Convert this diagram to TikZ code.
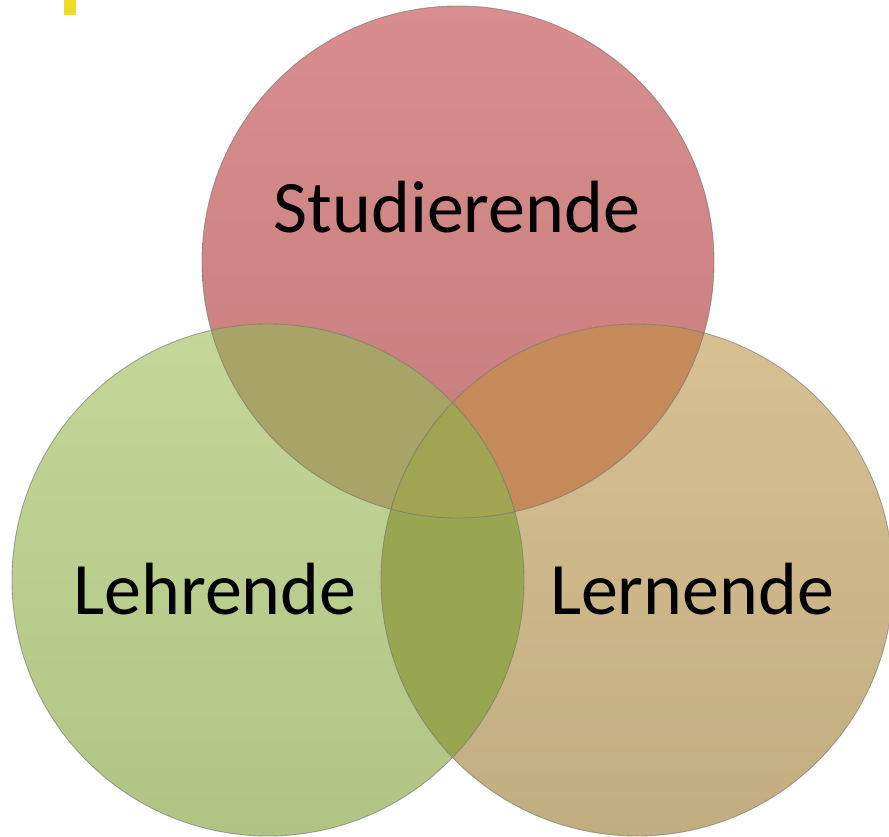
\documentclass[tikz,border=0pt]{standalone}
\usepackage{fontspec}
\setmainfont{Carlito}
\usepackage{tikz}
\usetikzlibrary{positioning,shadings}
\definecolor{studtop}{RGB}{216,142,142}
\definecolor{studbottom}{RGB}{199,124,124}
\definecolor{lehrtop}{RGB}{196,215,152}
\definecolor{lehrbottom}{RGB}{176,196,132}
\definecolor{lerntop}{RGB}{215,193,146}
\definecolor{lernbottom}{RGB}{194,173,128}
\definecolor{studlehr}{RGB}{168,163,102}
\definecolor{studlern}{RGB}{196,138,90}
\definecolor{lehrlern}{RGB}{152,166,82}
\definecolor{allthree}{RGB}{160,165,82}
\definecolor{markyellow}{RGB}{240,220,40}
\tikzset{
    venncircle/.style={
        circle,
        minimum size=512pt,
        inner sep=0pt
    },
    vennrim/.style={draw=black!55, line width=0.9pt, opacity=0.6},
    vennlabel/.style={
        anchor=base,
        text=black,
        font={\fontsize{74pt}{86pt}\selectfont}
    },
}

\begin{document}
\begin{tikzpicture}[x=1pt, y=1pt]

\useasboundingbox (0,0) rectangle (889,836);
\fill [markyellow] (64,821) rectangle (76,836);

% the three sets
\node [venncircle, top color=studtop, bottom color=studbottom] (stud) at (458,574) {};
\node [venncircle, top color=lehrtop, bottom color=lehrbottom] (lehr) at (268,256) {};
\node [venncircle, top color=lerntop, bottom color=lernbottom] (lern) at (637,256) {};

% overlaps
\begin{scope}
  \clip (lehr.center) circle (256);
  \fill [lehrlern] (lern.center) circle (256);
\end{scope}
\begin{scope}
  \clip (stud.center) circle (256);
  \fill [studlehr] (lehr.center) circle (256);
  \fill [studlern] (lern.center) circle (256);
  \clip (lehr.center) circle (256);
  \fill [allthree] (lern.center) circle (256);
\end{scope}

\foreach \s in {stud,lehr,lern}
  \draw [vennrim] (\s.center) circle (256);

\node [vennlabel] (studlabel) at (457,603) {Studierende};
\node [vennlabel] (lehrlabel) at (215,221) {Lehrende};
\node [vennlabel] (lernlabel) at (692,221) {Lernende};

\end{tikzpicture}
\end{document}
